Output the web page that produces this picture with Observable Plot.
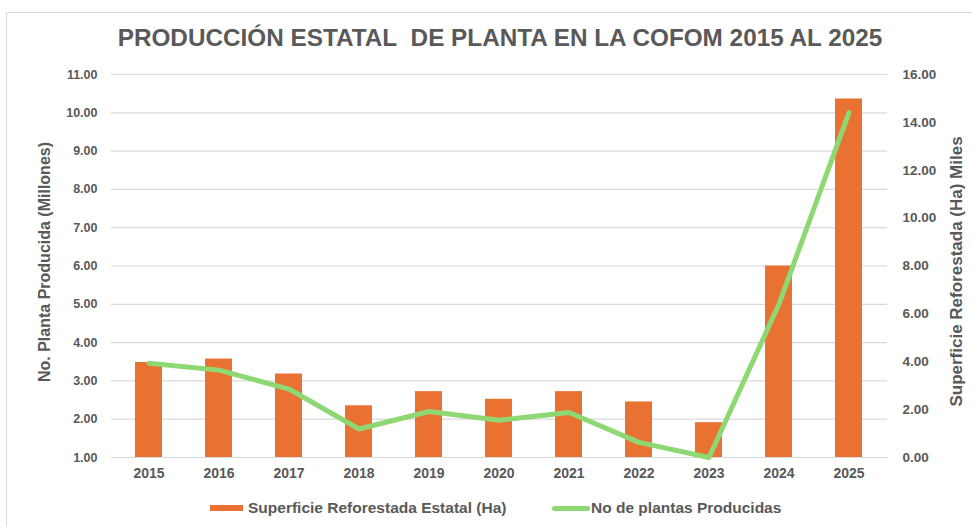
<!DOCTYPE html>
<html>
<head>
<meta charset="utf-8">
<script src="https://cdn.jsdelivr.net/npm/d3@7"></script>
<script src="https://cdn.jsdelivr.net/npm/@observablehq/plot@0.6"></script>
<style>
  html, body { margin: 0; padding: 0; background: #fff; overflow: hidden; }
  #wrap { position: relative; width: 972px; height: 527px; overflow: hidden; font-family: "Liberation Sans", Arial, sans-serif; }
  #frame { position: absolute; left: 6px; top: 12px; width: 980px; height: 540px; border: 1px solid #d9d9d9; box-sizing: border-box; }
  #title { position: absolute; top: 24px; left: 0; width: 1000px; text-align: center; font-size: 24.3px; font-weight: bold; color: #595959; white-space: nowrap; }
  #chart { position: absolute; left: 0; top: 0; }
  #legend { position: absolute; top: 498px; left: 0; width: 972px; font-size: 15.5px; font-weight: bold; color: #595959; }
  .item { position: absolute; display: flex; align-items: center; white-space: nowrap; height: 20px; }
  .sw-bar { width: 33px; height: 6px; background: #e97132; margin-right: 5px; }
  .sw-line { width: 38px; height: 5px; border-radius: 3px; background: #8ed873; margin-right: 1px; }
</style>
</head>
<body>
<div id="wrap">
  <div id="frame"></div>
  <div id="chart"></div>
  <div id="title">PRODUCCIÓN ESTATAL&nbsp; DE PLANTA EN LA COFOM 2015 AL 2025</div>
  <div id="legend">
    <div class="item" style="left:210px"><div class="sw-bar"></div><span>Superficie Reforestada Estatal (Ha)</span></div>
    <div class="item" style="left:552px"><div class="sw-line"></div><span>No de plantas Producidas</span></div>
  </div>
</div>
<script>
const years = ["2015","2016","2017","2018","2019","2020","2021","2022","2023","2024","2025"];
const superficie = [3.48, 3.57, 3.18, 2.35, 2.72, 2.52, 2.72, 2.45, 1.91, 6.00, 10.36];
const plantas = [3.94, 3.65, 2.86, 1.19, 1.92, 1.56, 1.88, 0.63, 0.00, 6.41, 14.41];
const leftTicks = [1,2,3,4,5,6,7,8,9,10,11];
const rightTicks = [0,2,4,6,8,10,12,14,16];
const leftLabel = "No. Planta Producida (Millones)";
const rightLabel = "Superficie Reforestada (Ha) Miles";

const data = years.map((year, i) => ({year, superficie: superficie[i], plantas: plantas[i]}));
const toLeft = v => 1 + v * 10 / 16;
const fromLeft = d => (d - 1) * 16 / 10;

const chart = Plot.plot({
  width: 972,
  height: 527,
  marginLeft: 111,
  marginRight: 85,
  marginTop: 74,
  marginBottom: 70,
  style: {fontFamily: "'Liberation Sans', Arial, sans-serif", fontSize: "13px", fontWeight: "bold", color: "#595959", background: "transparent", overflow: "visible"},
  x: {type: "band", domain: years, paddingInner: 0.61, paddingOuter: 0.305, label: null},
  y: {domain: [1, 11], label: null},
  marks: [
    Plot.gridY(leftTicks, {stroke: "#d9d9d9", strokeOpacity: 1, strokeWidth: 1.2}),
    Plot.axisY(leftTicks, {anchor: "left", tickSize: 0, tickPadding: 14, tickFormat: d => d.toFixed(2), label: null, fill: "#595959", fontSize: 12.5}),
    Plot.axisY(rightTicks.map(toLeft), {anchor: "right", tickSize: 0, tickPadding: 15, tickFormat: d => fromLeft(d).toFixed(2), label: null, fill: "#595959", fontSize: 13.5}),
    Plot.axisX({tickSize: 0, tickPadding: 11, label: null, fill: "#595959", fontSize: 14}),
    Plot.barY(data, {x: "year", y1: 1, y2: "superficie", fill: "#e97132"}),
    Plot.line(data, {x: "year", y: d => toLeft(d.plantas), stroke: "#8ed873", strokeWidth: 5, strokeLinecap: "round", strokeLinejoin: "round"}),
    Plot.text([leftLabel], {frameAnchor: "left", textAnchor: "middle", dx: -67, dy: -4, rotate: -90, text: d => d, fill: "#595959", fontSize: 16}),
    Plot.text([rightLabel], {frameAnchor: "right", textAnchor: "middle", dx: 69, dy: 5.5, rotate: -90, text: d => d, fill: "#595959", fontSize: 17})
  ]
});
document.getElementById("chart").appendChild(chart);
</script>
</body>
</html>
